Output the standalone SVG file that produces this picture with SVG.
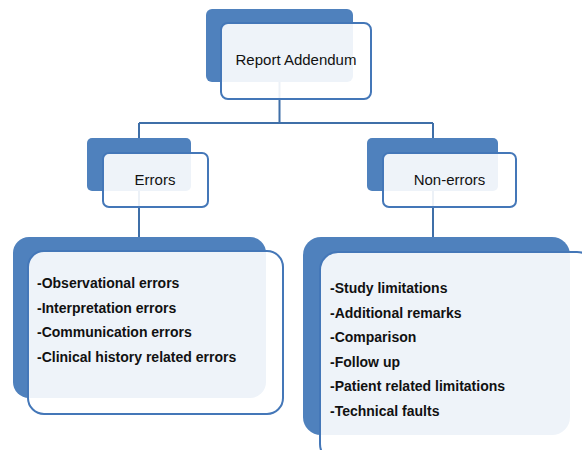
<svg xmlns="http://www.w3.org/2000/svg" width="582" height="450" viewBox="0 0 582 450">
<style>
.back{fill:#4f81bd;}
.front{fill:#ffffff;fill-opacity:0.9;stroke:#4477b8;stroke-width:2;}
.conn{fill:none;stroke:#3f6fa8;stroke-width:2;}
.title{font-family:"Liberation Sans",Arial,sans-serif;font-size:15px;fill:#111;text-anchor:middle;}
.item{font-family:"Liberation Sans",Arial,sans-serif;font-size:14px;font-weight:bold;fill:#111;}
</style>
<rect width="582" height="450" fill="#ffffff"/>
<g id="connectors">
<path class="conn" d="M279.5 82 V123 M139 123 H433 M139 123 V138 M433 123 V138 M139 191 V237 M433 191 V237"/>
</g>
<g id="report-addendum">
<rect class="back" x="206" y="9" width="147" height="73" rx="6"/>
<rect class="front" x="221" y="23" width="150" height="76" rx="7"/>
<text class="title" x="296" y="65">Report Addendum</text>
</g>
<g id="errors">
<rect class="back" x="87" y="138" width="104" height="53" rx="5"/>
<rect class="front" x="103" y="153" width="105" height="54" rx="6"/>
<text class="title" x="155" y="185">Errors</text>
</g>
<g id="non-errors">
<rect class="back" x="367" y="138" width="131" height="53" rx="5"/>
<rect class="front" x="383" y="153" width="133" height="54" rx="6"/>
<text class="title" x="449.5" y="185">Non-errors</text>
</g>
<g id="errors-list">
<rect class="back" x="13" y="237" width="253" height="161" rx="16"/>
<rect class="front" x="28" y="251" width="255" height="163" rx="16"/>
<text class="item" x="37" y="288">-Observational errors</text>
<text class="item" x="37" y="312.5">-Interpretation errors</text>
<text class="item" x="37" y="337">-Communication errors</text>
<text class="item" x="37" y="361.5">-Clinical history related errors</text>
</g>
<g id="non-errors-list">
<rect class="back" x="303" y="237" width="267" height="198" rx="18"/>
<rect class="front" x="320" y="252" width="275" height="210" rx="18"/>
<text class="item" x="330" y="293">-Study limitations</text>
<text class="item" x="330" y="317.5">-Additional remarks</text>
<text class="item" x="330" y="342">-Comparison</text>
<text class="item" x="330" y="366.5">-Follow up</text>
<text class="item" x="330" y="391">-Patient related limitations</text>
<text class="item" x="330" y="415.5">-Technical faults</text>
</g>
</svg>
